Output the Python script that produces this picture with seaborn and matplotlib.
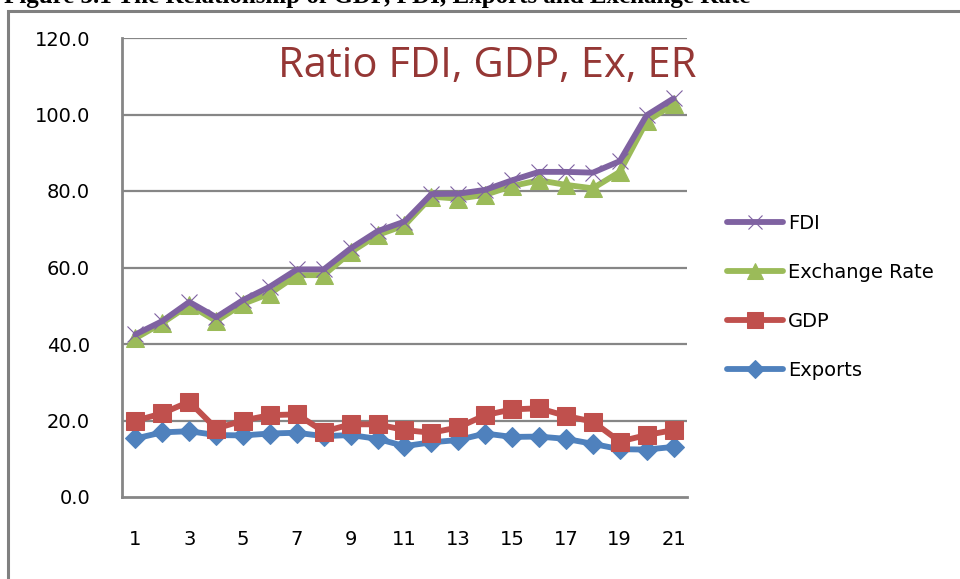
import matplotlib
matplotlib.use("Agg")
import matplotlib.pyplot as plt
from matplotlib.patches import Rectangle
import seaborn as sns
import pandas as pd

# values
periods = list(range(1, 22))
fdi = [42.5, 46.0, 51.0, 47.0, 51.5, 55.0, 59.5, 59.5, 65.0, 69.5, 72.0,
       79.2, 79.3, 80.3, 82.8, 85.0, 85.0, 84.8, 87.8, 99.8, 104.2]
exchange_rate = [41.5, 45.5, 50.2, 46.0, 50.5, 53.2, 58.0, 58.0, 64.0, 68.5, 71.0,
                 78.5, 78.0, 79.0, 81.3, 82.8, 81.6, 80.7, 85.0, 98.2, 102.7]
gdp = [19.9, 21.9, 24.9, 17.9, 20.0, 21.4, 21.6, 17.1, 19.0, 19.0, 17.5,
       16.8, 18.2, 21.4, 22.9, 23.2, 21.2, 19.7, 14.5, 16.2, 17.5]
exports = [15.3, 16.9, 17.2, 16.2, 16.1, 16.6, 16.8, 15.9, 16.2, 15.2, 13.3,
           14.3, 14.9, 16.6, 15.7, 15.8, 15.2, 13.9, 12.5, 12.4, 13.1]

df = pd.DataFrame({"Period": periods, "FDI": fdi, "Exchange Rate": exchange_rate,
                   "GDP": gdp, "Exports": exports})

sns.set_style("white")
plt.rcParams['font.family'] = ['DejaVu Sans']
plt.rcParams['text.color'] = 'black'
plt.rcParams['xtick.color'] = 'black'
plt.rcParams['ytick.color'] = 'black'

fig = plt.figure(figsize=(9.6, 5.79), dpi=100)
ax = fig.add_axes([122/960, 1 - 497/579, 565/960, 459/579])

# outer frame of the original figure (partly cropped)
fig.patches.append(Rectangle((8/960, -0.1), 1.2, 1 - 11/579 + 0.1, transform=fig.transFigure,
                             fill=False, edgecolor="#808080", linewidth=2.2))
fig.text(0.004, 1.006, "Figure 3.1 The Relationship of GDP, FDI, Exports and Exchange Rate",
         family="Liberation Serif", fontweight="bold", fontsize=18, va="center", ha="left")

grid_col = "#868686"
for v in range(20, 121, 20):
    ax.axhline(v, color=grid_col, lw=1.6, zorder=0)

styles = [
    ("Exports", "#4F81BD", "D", 10, {}),
    ("GDP", "#C0504D", "s", 13, {}),
    ("Exchange Rate", "#9BBB59", "^", 13, {}),
    ("FDI", "#7F62A1", "x", 11, {"markeredgewidth": 0.8}),
]
for name, col, mk, ms, extra in styles:
    sns.lineplot(data=df, x="Period", y=name, ax=ax, color=col, lw=4.2, marker=mk,
                 markersize=ms, markeredgecolor=col, markerfacecolor=col, label=name,
                 **extra)

ax.set_xlim(0.5, 21.5)
ax.set_ylim(0, 120)
ax.set_xlabel("")
ax.set_ylabel("")
ax.set_yticks(range(0, 121, 20))
ax.set_yticklabels([f"{v:.1f}" for v in range(0, 121, 20)])
ax.set_xticks(range(1, 22, 2))
ax.set_xticklabels([str(v) for v in range(1, 22, 2)])
ax.set_xticks([p + 0.5 for p in range(0, 22)], minor=True)
ax.tick_params(axis="x", which="major", length=0, pad=24, labelsize=14)
ax.tick_params(axis="x", which="minor", length=8, width=1.6, color=grid_col, direction="out")
ax.tick_params(axis="y", length=7, width=1.6, color=grid_col, direction="out", pad=16, labelsize=14)

for s in ["top", "right"]:
    ax.spines[s].set_visible(False)
for s in ["left", "bottom"]:
    ax.spines[s].set_color(grid_col)
    ax.spines[s].set_linewidth(2)

ax.text(1.017, 0.985, "Ratio FDI, GDP, Ex, ER", transform=ax.transAxes, ha="right", va="top",
        color="#953735", fontsize=30, family="Open Sans")

handles, labels = ax.get_legend_handles_labels()
order = [labels.index(n) for n in ["FDI", "Exchange Rate", "GDP", "Exports"]]
ax.legend([handles[i] for i in order], [labels[i] for i in order], loc="upper left",
          bbox_to_anchor=(1.04, 0.655), frameon=False, fontsize=14, handlelength=2.9,
          labelspacing=1.55, handletextpad=0.25, markerscale=0.9)

fig.savefig("out.png", dpi=100)
